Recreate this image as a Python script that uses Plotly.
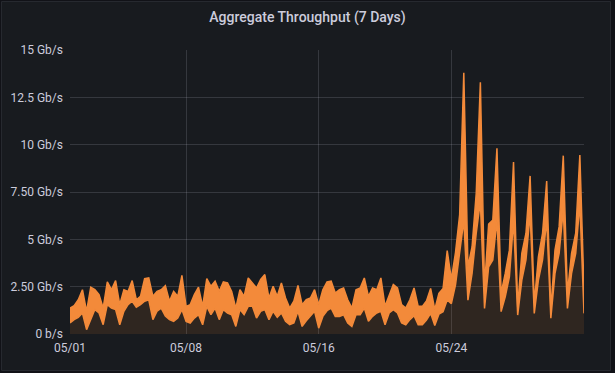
import pandas as pd
import plotly.graph_objects as go

# ---- data (6-hour samples from 05/01 00:00) ----
upper_gbps = [
    1.37, 1.50, 1.81, 2.34, 1.20, 2.47, 2.34, 2.08, 1.37, 2.75,
    2.34, 2.82, 1.55, 2.34, 2.25, 2.82, 1.81, 1.99, 2.92, 2.96,
    1.99, 2.25, 2.34, 2.55, 1.73, 2.25, 1.99, 3.10, 1.46, 1.55,
    2.08, 2.47, 1.46, 2.92, 2.52, 2.79, 2.25, 2.75, 2.70, 2.25,
    1.37, 2.34, 1.99, 2.96, 2.70, 2.43, 2.88, 3.14, 1.90, 2.52,
    1.99, 2.70, 1.90, 1.37, 1.73, 2.56, 1.55, 1.81, 1.90, 2.34,
    1.55, 2.34, 2.75, 2.79, 2.16, 2.34, 2.43, 1.81, 1.37, 2.34,
    2.43, 2.96, 1.99, 2.43, 2.34, 2.96, 1.46, 2.08, 2.61, 2.43,
    1.55, 1.37, 1.81, 2.43, 1.46, 1.46, 1.75, 2.41, 1.30, 2.15,
    2.40, 4.40, 2.90, 4.30, 6.30, 13.80, 3.55, 4.61, 7.43, 13.30,
    2.50, 5.80, 6.02, 9.81, 2.15, 3.20, 4.43, 9.08, 1.44, 4.26,
    5.32, 8.35, 1.62, 4.08, 5.32, 8.08, 1.27, 4.43, 5.67, 9.42,
    2.15, 4.26, 5.32, 9.45, 2.32,
]
lower_gbps = [
    0.58, 0.76, 0.88, 1.11, 0.23, 0.76, 1.29, 1.11, 0.49, 1.55,
    1.37, 1.29, 0.49, 1.20, 1.55, 1.73, 1.41, 1.55, 1.73, 1.81,
    0.76, 1.20, 1.37, 0.95, 0.76, 0.67, 0.84, 1.29, 0.67, 0.58,
    0.84, 1.02, 0.49, 1.46, 1.02, 1.37, 0.76, 1.29, 1.11, 1.02,
    0.40, 1.29, 1.02, 1.46, 1.46, 0.84, 1.20, 1.29, 0.76, 1.20,
    0.88, 1.11, 0.67, 0.49, 0.58, 1.20, 0.40, 0.70, 0.93, 1.20,
    0.31, 0.93, 1.23, 1.37, 0.93, 0.93, 1.02, 0.58, 0.40, 1.02,
    1.02, 1.37, 0.67, 0.93, 1.11, 1.20, 0.49, 1.11, 1.29, 1.11,
    0.58, 0.49, 0.76, 0.97, 0.49, 0.49, 0.74, 1.09, 0.45, 1.05,
    1.18, 1.80, 1.60, 2.60, 4.30, 6.00, 1.79, 3.20, 5.32, 7.00,
    1.35, 3.55, 3.91, 6.02, 1.18, 1.97, 3.02, 6.00, 1.00, 2.85,
    3.91, 6.37, 1.09, 2.85, 3.91, 6.02, 0.83, 3.20, 4.26, 6.55,
    1.35, 3.20, 4.26, 6.90, 1.09,
]
start_time = "2023-05-01 00:00"
step = "6h"

y_tick_vals = [0, 2.5, 5, 7.5, 10, 12.5, 15]
y_tick_text = ["0 b/s", "2.50 Gb/s", "5 Gb/s", "7.50 Gb/s", "10 Gb/s", "12.5 Gb/s", "15 Gb/s"]
x_tick_vals = ["2023-05-01", "2023-05-08", "2023-05-16", "2023-05-24"]
x_tick_text = ["05/01", "05/08", "05/16", "05/24"]

times = pd.date_range(start_time, periods=len(upper_gbps), freq=step)

ORANGE = "#f38a3a"
BG = "#181b1f"
TEXT = "#ccccdc"
GRID = "rgba(204,204,220,0.17)"
FONT = "Roboto, Inter, sans-serif"

fig = go.Figure()
fig.add_trace(go.Scatter(
    x=times, y=lower_gbps, mode="lines",
    line=dict(color=ORANGE, width=1.5),
    fill="tozeroy", fillcolor="rgba(255,140,50,0.10)",
    hoverinfo="skip", showlegend=False,
))
fig.add_trace(go.Scatter(
    x=times, y=upper_gbps, mode="lines",
    line=dict(color=ORANGE, width=1.5),
    fill="tonexty", fillcolor=ORANGE,
    hoverinfo="skip", showlegend=False,
))

W, H = 615, 373
L, R, T, B = 70, 31, 50, 39
pw, ph = W - L - R, H - T - B

def px_x(p):
    return (p - L) / pw

def px_y(p):
    return (H - B - p) / ph

fig.add_shape(
    type="rect", xref="paper", yref="paper", layer="below",
    x0=px_x(1.5), x1=px_x(610.5), y0=px_y(370.5), y1=px_y(1.5),
    fillcolor=BG, line=dict(color="#26292f", width=1),
)

fig.update_layout(
    width=W, height=H,
    margin=dict(l=L, r=R, t=T, b=B, pad=0, autoexpand=False),
    paper_bgcolor="#111217",
    plot_bgcolor="rgba(0,0,0,0)",
    font=dict(family=FONT, size=12, color=TEXT),
    title=dict(
        text="Aggregate Throughput (7 Days)",
        x=0.5, xref="container", xanchor="center",
        y=1 - 17 / H, yref="container", yanchor="middle",
        font=dict(family=FONT, size=14, color=TEXT, weight=500),
    ),
    xaxis=dict(
        range=[times[0], times[-1]],
        tickvals=pd.to_datetime(x_tick_vals), ticktext=x_tick_text,
        showgrid=True, gridcolor=GRID, gridwidth=1,
        zeroline=False, showline=False, ticks="", automargin=False,
        ticklabelstandoff=5,
        tickfont=dict(family=FONT, size=12, color=TEXT),
    ),
    yaxis=dict(
        range=[0, 15],
        tickvals=y_tick_vals, ticktext=y_tick_text,
        showgrid=True, gridcolor=GRID, gridwidth=1,
        zeroline=False, showline=False, ticks="", automargin=False,
        ticklabelstandoff=6,
        tickfont=dict(family=FONT, size=12, color=TEXT),
    ),
)

fig.write_html(
    "out.html",
    config={"displayModeBar": False},
    post_script="document.body.style.margin='0px';document.body.style.background='#111217';",
)
